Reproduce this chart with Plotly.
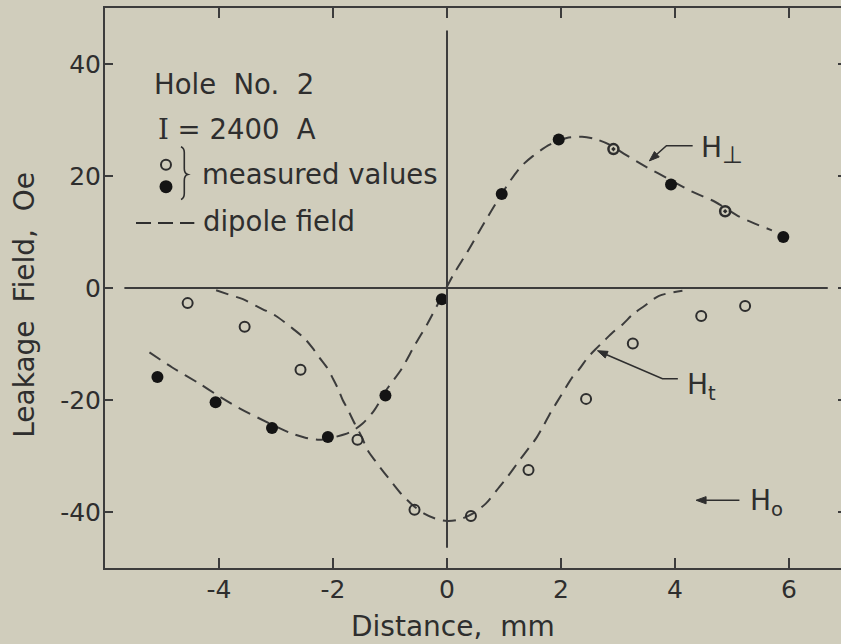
import math
import plotly.graph_objects as go

# ---------------- data ----------------
# measured values, normal component (filled dots)
perp_filled_x = [-5.08, -4.06, -3.07, -2.09, -1.08, -0.09, 0.96, 1.96, 3.93, 5.90]
perp_filled_y = [-15.9, -20.4, -25.0, -26.6, -19.2, -2.0, 16.8, 26.5, 18.5, 9.1]
# measured values on the normal-component curve drawn as ringed dots
perp_ringed_x = [2.92, 4.88]
perp_ringed_y = [24.8, 13.7]
# measured values, tangential component (open circles)
tang_open_x = [-4.55, -3.55, -2.57, -1.57, -0.57, 0.42, 1.43, 2.44, 3.26, 4.46, 5.23]
tang_open_y = [-2.7, -6.9, -14.6, -27.1, -39.6, -40.7, -32.5, -19.8, -9.9, -5.0, -3.2]

# dipole field curves
perp_dip_x = [-5.22, -4.82, -4.34, -4.05, -3.64, -3.29, -2.77, -2.5, -2.24, -2.0, -1.71,
              -1.48, -1.28, -1.05, -0.8, -0.57, -0.35, -0.1, 0.13, 0.35, 0.6, 0.85, 1.1,
              1.3, 1.5, 1.8, 2.1, 2.37, 2.6, 2.85, 3.1, 3.5, 3.9, 4.3, 4.7, 5.1, 5.4, 5.7]
perp_dip_y = [-11.5, -14.2, -17.1, -19.0, -21.5, -23.3, -25.8, -26.7, -27.1, -26.7, -25.8,
              -24.2, -21.9, -18.0, -14.5, -10.3, -6.5, -1.7, 2.7, 6.3, 10.7, 15.0, 19.0,
              21.7, 23.5, 25.6, 26.8, 27.0, 26.6, 25.6, 24.0, 21.6, 19.4, 17.2, 15.4, 12.9, 11.5, 10.3]
tang_dip_x = [-4.05, -3.85, -3.58, -3.35, -3.17, -3.0, -2.7, -2.5, -2.36, -2.24, -2.1, -2.01,
              -1.92, -1.83, -1.75, -1.62, -1.5, -1.39, -1.25, -1.1, -0.96, -0.8, -0.6, -0.4,
              -0.2, 0.0, 0.2, 0.45, 0.68, 0.92, 1.04, 1.27, 1.47, 1.56, 1.68, 1.82, 2.0, 2.2,
              2.32, 2.47, 2.61, 2.76, 2.91, 3.08, 3.26, 3.45, 3.72, 4.13]
tang_dip_y = [-0.4, -1.1, -2.0, -3.2, -4.1, -5.0, -7.3, -9.0, -10.7, -12.4, -14.3, -16.0,
              -17.8, -20.0, -21.5, -24.2, -26.5, -29.0, -31.0, -33.0, -34.8, -36.8, -38.8, -40.3,
              -41.2, -41.6, -41.4, -40.3, -38.5, -35.5, -34.0, -30.8, -28.1, -26.9, -24.8, -22.2,
              -19.2, -15.9, -14.5, -12.4, -10.9, -9.4, -7.9, -6.5, -4.7, -3.3, -1.4, -0.5]

x_ticks = [-4, -2, 0, 2, 4, 6]
x_tick_text = ["-4", "-2", "0", "2", "4", "6"]
y_ticks = [-40, -20, 0, 20, 40]
y_tick_text = ["-40", "-20", "0", "20", "40"]

X_RANGE = [-6.0, 7.0]
Y_RANGE = [-50.0, 50.0]

# ---------------- style / geometry ----------------
BG = "#d0cdbc"
INK = "#2e2e2e"
LINE = "#3c3c3c"
FONT = "DejaVu Sans"
DASH = "13px,8px"
W, H = 846, 644
M = dict(l=105, r=0, t=8, b=76)
PX_X = (W - M["l"] - M["r"]) / (X_RANGE[1] - X_RANGE[0])   # pixels per x unit
PX_Y = (H - M["t"] - M["b"]) / (Y_RANGE[1] - Y_RANGE[0])   # pixels per y unit

fig = go.Figure()

for xs, ys in [(perp_dip_x, perp_dip_y), (tang_dip_x, tang_dip_y)]:
    fig.add_trace(go.Scatter(x=xs, y=ys, mode="lines",
                             line=dict(color=LINE, width=2, dash=DASH, shape="spline", smoothing=0.8),
                             hoverinfo="skip", showlegend=False))

fig.add_trace(go.Scatter(x=tang_open_x, y=tang_open_y, mode="markers",
                         marker=dict(symbol="circle-open", size=10, color=INK, line=dict(width=2)),
                         showlegend=False))
fig.add_trace(go.Scatter(x=perp_ringed_x, y=perp_ringed_y, mode="markers",
                         marker=dict(symbol="circle-open-dot", size=10, color=INK, line=dict(width=2.5)),
                         showlegend=False))
fig.add_trace(go.Scatter(x=perp_filled_x, y=perp_filled_y, mode="markers",
                         marker=dict(symbol="circle", size=12, color="#141414"),
                         showlegend=False))
# helper trace so the right-hand tick axis is drawn
fig.add_trace(go.Scatter(x=[None], y=[None], yaxis="y2", showlegend=False, hoverinfo="skip"))

# ---------------- reference lines through the origin ----------------
zero_h = dict(x0=-5.66, x1=6.68)
zero_v = dict(y0=-46.4, y1=46.0)
fig.add_shape(type="line", xref="x", yref="y", x0=zero_h["x0"], x1=zero_h["x1"], y0=0, y1=0,
              line=dict(color=LINE, width=2))
fig.add_shape(type="line", xref="x", yref="y", x0=0, x1=0, y0=zero_v["y0"], y1=zero_v["y1"],
              line=dict(color=LINE, width=2))

# ---------------- key (upper left) ----------------
txt = dict(family=FONT, size=27.5, color=INK)
fig.add_annotation(x=-5.17, y=36.4, xref="x", yref="y", text="Hole  No.  2", showarrow=False,
                   xanchor="left", yanchor="middle", font=txt)
fig.add_annotation(x=-5.10, y=28.4, xref="x", yref="y",
                   text="<span style='font-family:DejaVu Serif'>I</span> = 2400  A",
                   showarrow=False, xanchor="left", yanchor="middle", font=txt)
fig.add_annotation(x=-4.33, y=20.3, xref="x", yref="y", text="measured values", showarrow=False,
                   xanchor="left", yanchor="middle", font=txt)
fig.add_annotation(x=-4.31, y=11.9, xref="x", yref="y", text="dipole field", showarrow=False,
                   xanchor="left", yanchor="middle", font=txt)
# key symbols
fig.add_shape(type="circle", xref="x", yref="y", xsizemode="pixel", ysizemode="pixel",
              xanchor=-4.93, yanchor=22.0, x0=-5, x1=5, y0=-5, y1=5,
              line=dict(color=INK, width=2), fillcolor="rgba(0,0,0,0)")
fig.add_shape(type="circle", xref="x", yref="y", xsizemode="pixel", ysizemode="pixel",
              xanchor=-4.93, yanchor=18.1, x0=-6.5, x1=6.5, y0=-6.5, y1=6.5,
              line=dict(color="#141414", width=0), fillcolor="#141414")
fig.add_shape(type="path", xref="x", yref="y",
              path="M -4.667,25.24 Q -4.609,25.0 -4.609,24.2 L -4.609,21.3 "
                   "Q -4.609,20.45 -4.547,20.27 Q -4.609,20.1 -4.609,19.2 "
                   "L -4.609,16.9 Q -4.609,16.0 -4.667,15.82",
              line=dict(color=INK, width=1.6))
fig.add_shape(type="line", xref="x", yref="y", x0=-5.456, x1=-4.433, y0=11.6, y1=11.6,
              line=dict(color=INK, width=2, dash="15px,7px"))


# ---------------- curve labels with leader arrows ----------------
def leader(points, head_len=10.0, head_half=3.6):
    """Polyline through points (data units); arrowhead at the last point."""
    (xa, ya), (xb, yb) = points[-2], points[-1]
    dx, dy = (xb - xa) * PX_X, (yb - ya) * PX_Y
    n = math.hypot(dx, dy)
    ux, uy = dx / n, dy / n
    bx, by = xb - ux * head_len / PX_X, yb - uy * head_len / PX_Y
    p1 = (bx - uy * head_half / PX_X, by + ux * head_half / PX_Y)
    p2 = (bx + uy * head_half / PX_X, by - ux * head_half / PX_Y)
    pts = list(points[:-1]) + [(bx, by)]
    path = "M " + " L ".join(f"{x:.4f},{y:.4f}" for x, y in pts)
    fig.add_shape(type="path", xref="x", yref="y", path=path, line=dict(color=INK, width=1.6))
    tri = f"M {xb:.4f},{yb:.4f} L {p1[0]:.4f},{p1[1]:.4f} L {p2[0]:.4f},{p2[1]:.4f} Z"
    fig.add_shape(type="path", xref="x", yref="y", path=tri,
                  line=dict(color=INK, width=1), fillcolor=INK)


lab = dict(family=FONT, size=28, color=INK)
# H perpendicular
leader([(4.31, 25.4), (3.85, 25.4), (3.55, 22.7)])
fig.add_annotation(x=4.42, y=24.6, xref="x", yref="y",
                   text="H<sub><span style='font-size:24px'>⊥</span></sub>", showarrow=False,
                   xanchor="left", yanchor="middle", font=lab)
# H tangential
leader([(4.05, -16.2), (3.78, -16.2), (2.64, -11.2)])
fig.add_annotation(x=4.17, y=-17.6, xref="x", yref="y", text="H<sub>t</sub>", showarrow=False,
                   xanchor="left", yanchor="middle", font=lab)
# H0
leader([(5.13, -37.9), (4.37, -37.9)])
fig.add_annotation(x=5.28, y=-38.3, xref="x", yref="y", text="H<sub>o</sub>", showarrow=False,
                   xanchor="left", yanchor="middle", font=lab)

# ---------------- axis titles (paper coordinates) ----------------
fig.add_annotation(x=0.470, y=-0.105, xref="paper", yref="paper", text="Distance,  mm",
                   showarrow=False, xanchor="center", yanchor="middle",
                   font=dict(family=FONT, size=28, color=INK))
fig.add_annotation(x=-0.108, y=0.47, xref="paper", yref="paper", text="Leakage  Field,  Oe",
                   showarrow=False, textangle=-90, xanchor="center", yanchor="middle",
                   font=dict(family=FONT, size=28, color=INK))

tickfont = dict(family=FONT, size=25, color=INK)
fig.update_layout(
    width=W, height=H,
    margin=M,
    paper_bgcolor=BG, plot_bgcolor=BG,
    showlegend=False,
    xaxis=dict(range=X_RANGE, tickvals=x_ticks, ticktext=x_tick_text, ticks="inside",
               ticklen=10, tickwidth=2, tickcolor=LINE, showline=True, linecolor=LINE,
               linewidth=2, mirror="ticks", showgrid=False, zeroline=False,
               tickfont=tickfont, ticklabelstandoff=-2),
    yaxis=dict(range=Y_RANGE, tickvals=y_ticks, ticktext=y_tick_text, ticks="inside",
               ticklen=8, tickwidth=2, tickcolor=LINE, showline=True, linecolor=LINE,
               linewidth=2, mirror=False, showgrid=False, zeroline=False,
               tickfont=tickfont, ticklabelstandoff=-3),
    yaxis2=dict(range=Y_RANGE, overlaying="y", side="right", tickvals=y_ticks, ticks="inside",
                ticklen=8, tickwidth=2, tickcolor=LINE, showline=False, showticklabels=False,
                showgrid=False, zeroline=False),
)

fig.write_html(
    "out.html",
    config={"displayModeBar": False},
    post_script="document.body.style.margin='0';document.body.style.overflow='hidden';"
                "document.body.style.background='" + BG + "';",
)
